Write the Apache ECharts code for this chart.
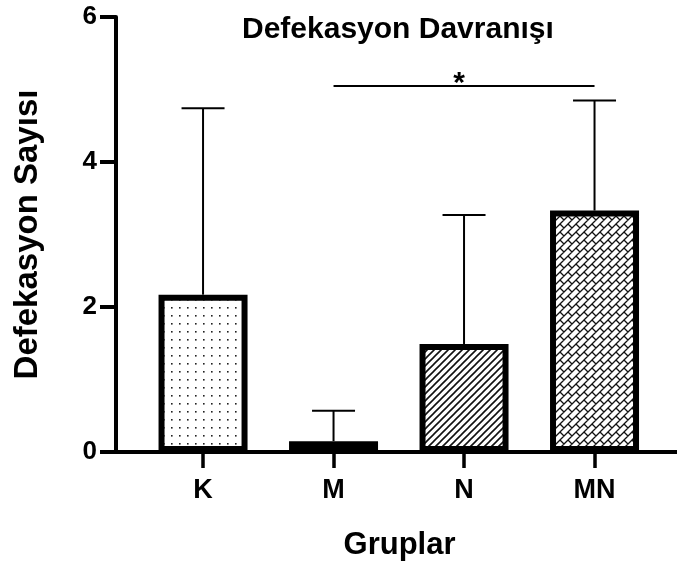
<!DOCTYPE html>
<html>
<head>
<meta charset="utf-8">
<script src="https://cdn.jsdelivr.net/npm/echarts@6/dist/echarts.min.js"></script>
<style>
  html, body { margin: 0; padding: 0; background: #fff; }
  #chart { width: 677px; height: 566px; }
</style>
</head>
<body>
<div id="chart"></div>
<script>
// data
const groups = ["K", "M", "N", "MN"];
const means = [2.17, 0.15, 1.49, 3.33];
const errTops = [4.74, 0.57, 3.27, 4.85];
const yTicks = [0, 2, 4, 6];
// significance bracket: from group index, to group index, height, mark
const sigFrom = [1];
const sigTo = [3];
const sigHeight = [5.05];
const sigMark = ["*"];

const FONT = "Liberation Sans, Arial, sans-serif";

function tile(w, h, draw) {
  const c = document.createElement("canvas");
  c.width = w;
  c.height = h;
  const ctx = c.getContext("2d");
  ctx.fillStyle = "#fff";
  ctx.fillRect(0, 0, w, h);
  draw(ctx);
  return c;
}

// K: dots
const dots = tile(8, 8, ctx => {
  ctx.fillStyle = "#222";
  ctx.fillRect(3, 3, 1.6, 1.6);
});
// M: dashes
const dashes = tile(9, 3, ctx => {
  ctx.fillStyle = "#111";
  ctx.fillRect(0, 0, 9, 3);
  ctx.fillStyle = "#fff";
  ctx.fillRect(1, 1, 6, 1.3);
});
// N: diagonal hatch
const hatch = tile(7, 7, ctx => {
  ctx.strokeStyle = "#111";
  ctx.lineWidth = 1.6;
  ctx.beginPath();
  ctx.moveTo(-1, 8); ctx.lineTo(8, -1);
  ctx.moveTo(-1, 1); ctx.lineTo(1, -1);
  ctx.moveTo(6, 8); ctx.lineTo(8, 6);
  ctx.stroke();
});
// MN: diagonal bricks
const bricks = tile(8, 8, ctx => {
  ctx.strokeStyle = "#111";
  ctx.lineWidth = 1.3;
  ctx.beginPath();
  ctx.moveTo(-1, 9); ctx.lineTo(9, -1);
  ctx.moveTo(-1, 1); ctx.lineTo(1, -1);
  ctx.moveTo(7, 9); ctx.lineTo(9, 7);
  ctx.moveTo(0, 0); ctx.lineTo(4, 4);
  ctx.stroke();
});
const fills = [dots, dashes, hatch, bricks];

const chart = echarts.init(document.getElementById("chart"));

chart.setOption({
  backgroundColor: "#fff",
  animation: false,
  title: {
    text: "Defekasyon Davranışı",
    left: 242,
    top: 15,
    padding: 0,
    textStyle: { fontFamily: FONT, fontWeight: "bold", fontSize: 30, color: "#000" },
  },
  grid: { left: 116, right: 0, top: 17, bottom: 114 },
  xAxis: {
    type: "value",
    min: -0.667,
    max: 3.632,
    name: "Gruplar",
    nameLocation: "middle",
    nameGap: 78,
    nameTextStyle: {
      fontFamily: FONT, fontWeight: "bold", fontSize: 31, color: "#000",
      verticalAlign: "top", padding: [0, 0, 0, 6],
    },
    axisLine: { show: true, onZero: false, lineStyle: { color: "#000", width: 4 } },
    axisTick: {
      show: true,
      customValues: [0, 1, 2, 3],
      length: 16,
      lineStyle: { color: "#000", width: 3.5 },
    },
    axisLabel: {
      customValues: [0, 1, 2, 3],
      margin: 25,
      fontFamily: FONT, fontWeight: "bold", fontSize: 27, color: "#000",
      formatter: v => groups[Math.round(v)],
    },
    splitLine: { show: false },
  },
  yAxis: {
    type: "value",
    min: yTicks[0],
    max: yTicks[yTicks.length - 1],
    interval: 2,
    name: "Defekasyon Sayısı",
    nameLocation: "middle",
    nameRotate: 90,
    nameGap: 72,
    nameTextStyle: { fontFamily: FONT, fontWeight: "bold", fontSize: 33, color: "#000" },
    axisLine: { show: true, onZero: false, lineStyle: { color: "#000", width: 4 } },
    axisTick: { show: true, length: 16, lineStyle: { color: "#000", width: 4 } },
    axisLabel: {
      margin: 19,
      fontFamily: FONT, fontWeight: "bold", fontSize: 26, color: "#000",
    },
    splitLine: { show: false },
  },
  series: [
    {
      name: "errors",
      type: "custom",
      z: 1,
      data: groups.map((g, i) => [i, means[i], errTops[i]]),
      renderItem: (params, api) => {
        const base = api.coord([api.value(0), api.value(1)]);
        const top = api.coord([api.value(0), api.value(2)]);
        const half = 21.5;
        const style = { stroke: "#000", lineWidth: 2 };
        return {
          type: "group",
          children: [
            { type: "line", shape: { x1: base[0], y1: base[1], x2: top[0], y2: top[1] }, style },
            { type: "line", shape: { x1: top[0] - half, y1: top[1], x2: top[0] + half, y2: top[1] }, style },
          ],
        };
      },
    },
    {
      name: "means",
      type: "bar",
      z: 2,
      barWidth: 89,
      data: groups.map((g, i) => ({
        value: [i, means[i]],
        itemStyle: {
          color: { image: fills[i], repeat: "repeat" },
          borderColor: "#000",
          borderWidth: 6,
        },
      })),
    },
    {
      name: "significance",
      type: "custom",
      z: 3,
      data: sigFrom.map((f, i) => [f, sigTo[i], sigHeight[i], i]),
      renderItem: (params, api) => {
        const a = api.coord([api.value(0), api.value(2)]);
        const b = api.coord([api.value(1), api.value(2)]);
        return {
          type: "group",
          children: [
            { type: "line", shape: { x1: a[0], y1: a[1], x2: b[0], y2: b[1] }, style: { stroke: "#000", lineWidth: 2 } },
            {
              type: "text",
              x: (a[0] + b[0]) / 2 - 5,
              y: a[1] - 2,
              style: {
                text: sigMark[api.value(3)],
                fontFamily: FONT, fontWeight: "bold", fontSize: 30, fill: "#000",
                align: "center", verticalAlign: "middle",
              },
            },
          ],
        };
      },
    },
  ],
});

window.addEventListener("resize", () => {
  chart.resize();
});
</script>
</body>
</html>
